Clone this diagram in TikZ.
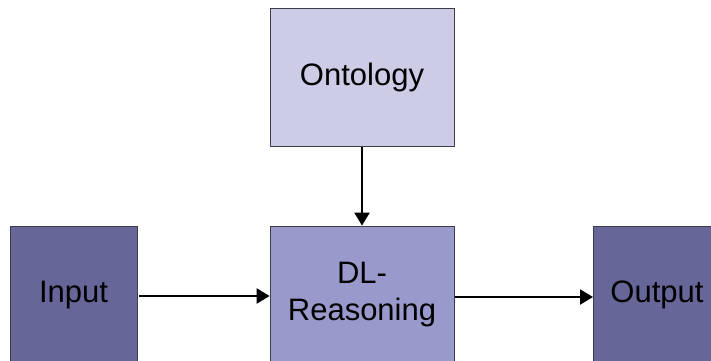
\documentclass[tikz,border=0pt]{standalone}
\usepackage{fontspec}
\setmainfont{Liberation Sans}
\usetikzlibrary{arrows.meta}
\definecolor{ontofill}{RGB}{204,204,230}
\definecolor{dlfill}{RGB}{153,153,204}
\definecolor{iofill}{RGB}{102,102,153}
\definecolor{boxline}{RGB}{60,60,70}
\tikzset{
  blockbox/.style={draw=boxline, line width=0.8pt, rectangle, inner sep=0pt,
    minimum height=138pt, text=black, align=center,
    font=\fontsize{31}{37}\selectfont},
  flow/.style={line width=2.3pt, -{Triangle[length=13pt,width=15pt]}, black}
}
\begin{document}
\begin{tikzpicture}[x=1pt,y=-1pt]
\useasboundingbox (0,0) rectangle (711,360);
\clip (0,0) rectangle (711,360);
\fill[white] (0,0) rectangle (711,360);
\node[blockbox, fill=ontofill, minimum width=184pt] (onto) at (362,77) {Ontology};
\node[blockbox, fill=iofill, minimum width=127pt] (input) at (73.5,295) {Input};
\node[blockbox, fill=dlfill, minimum width=184pt] (dl) at (362,295) {DL-\\Reasoning};
\node[blockbox, fill=iofill, anchor=west, inner xsep=17pt, text width=143pt, align=left] (output) at (593,295) {Output};
\draw[flow] ([yshift=-1pt]input.east) ++(2,0) -- ([yshift=-1pt]dl.west);
\draw[flow] ([yshift=-2pt]dl.east) ++(1,0) -- ([yshift=-2pt]output.west);
\draw[flow] (onto.south) ++(0,1) -- (dl.north);
\end{tikzpicture}
\end{document}
